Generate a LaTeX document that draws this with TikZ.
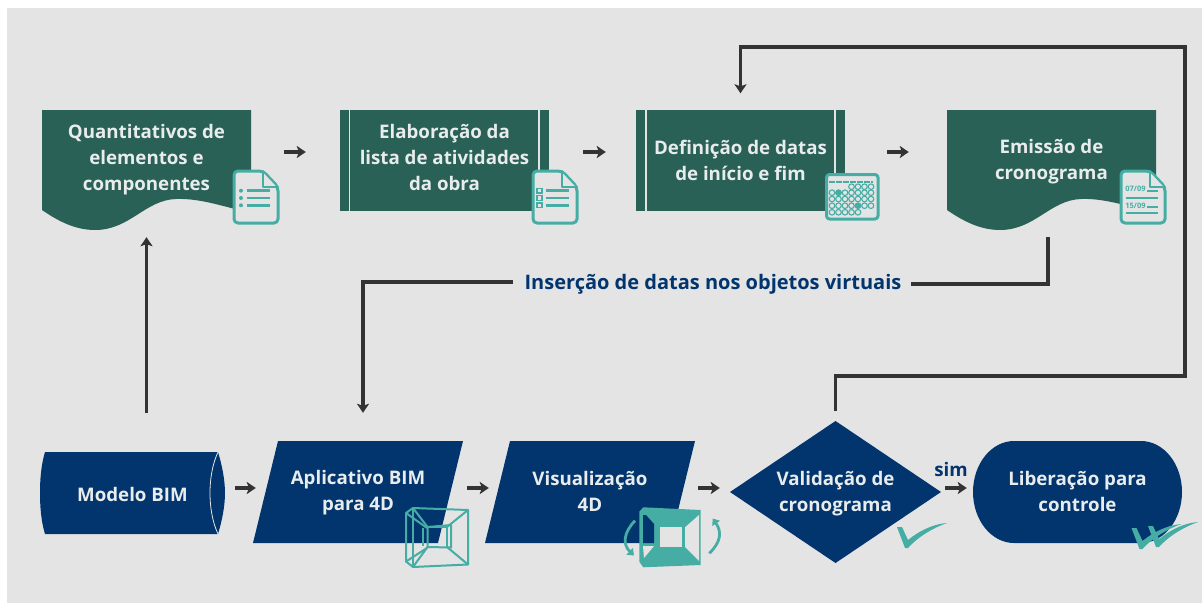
\documentclass[tikz,border=0pt]{standalone}
\usepackage{fontspec}
\setmainfont{Open Sans}
\usetikzlibrary{arrows.meta,calc}
\definecolor{bggray}{HTML}{E4E4E4}
\definecolor{dgreen}{HTML}{2A6157}
\definecolor{navy}{HTML}{02356E}
\definecolor{teal2}{HTML}{46ADA5}
\definecolor{darkline}{HTML}{333333}
\definecolor{paper}{HTML}{E9ECEC}
\tikzset{
  lbl/.style={inner sep=0pt,align=center,text=paper,font=\bfseries\fontsize{18.7}{26}\selectfont},
  conn/.style={draw=darkline,line width=3.3pt},
  arr/.style={conn,-{Stealth[length=9pt,width=12pt,inset=2pt]}},
  tealln/.style={draw=teal2,line width=3pt,line join=round},
  thin teal/.style={draw=teal2,line width=2pt,line join=round},
  rot/.style={draw=teal2,line width=2.8pt,-{Triangle[length=6pt,width=9pt]}},
}
\newcommand{\docbody}{%
  \draw[tealln,fill=bggray,rounded corners=4pt] (1,1)--(30,1)--(45,17)--(45,53)--(1,53)--cycle;
  \draw[tealln,fill=bggray,line width=1.6pt] (30,1)--(30,17)--(45,17)--cycle;
}
\newcommand{\listlines}{%
  \foreach \yy in {20.7,28,35.3}{\draw[teal2,line width=2.8pt] (13.5,\yy)--(37,\yy);}
}
\newcommand{\wirecube}[1]{%
  \begin{scope}[shift={(#1)}]
    \draw[thin teal] (7,0)--(62,2)--(62,56.5)--(7,59)--(0,53.5)--(0,5)--cycle;
    \draw[thin teal] (7,0)--(7,59);
    \draw[thin teal] (0,5)--(21,20) (0,53.5)--(21,40);
    \draw[thin teal] (7,0)--(21.5,19) (62,2)--(41,19) (62,56.5)--(41,39) (7,59)--(21.5,39);
    \draw[thin teal] (21.5,19)--(45,17)--(45,39.5)--(21.5,39)--cycle;
    \draw[thin teal] (16.7,20)--(16.7,38) (41,19)--(41,39);
    \draw[thin teal] (21.5,19)--(41,19);
  \end{scope}
}
\newcommand{\checkmk}[1]{%
  \fill[teal2,shift={(#1)}] (0,4)--(5,4)--(11,17) .. controls (22,8) and (36,1) .. (50,0)
     .. controls (36,5) and (22,13) .. (11,25) -- (8,25) -- cycle;
}
\begin{document}
\begin{tikzpicture}[x=1pt,y=-1pt]
\useasboundingbox (0,0) rectangle (1202,605);
\fill[white] (0,0) rectangle (1202,605);
\fill[bggray] (7,8) rectangle (1202,603);

% shapes
\fill[dgreen] (42,110)--(251,110)--(251,213) .. controls (225,207) and (200,198) .. (176,199)
   .. controls (145,200) and (130,230) .. (95,230) .. controls (75,230) and (58,221) .. (42,210) -- cycle;
\fill[dgreen] (340,110) rectangle (549,211);
\draw[bggray,line width=1.5pt] (349.5,110)--(349.5,211) (539,110)--(539,211);
\fill[dgreen] (636,110) rectangle (845,211);
\draw[bggray,line width=1.5pt] (646,110)--(646,211) (835,110)--(835,211);
\fill[dgreen] (947,110)--(1156,110)--(1156,213) .. controls (1130,207) and (1105,198) .. (1081,199)
   .. controls (1050,200) and (1035,230) .. (1000,230) .. controls (980,230) and (963,221) .. (947,210) -- cycle;

\fill[navy] (45,452)--(218,452) .. controls (222,465) and (225,480) .. (225,493)
   .. controls (225,506) and (222,521) .. (218,534) -- (45,534)
   .. controls (41,521) and (40,506) .. (40,493) .. controls (40,480) and (41,465) .. (45,452) -- cycle;
\draw[bggray,line width=0.8pt] (218,452) .. controls (212,465) and (210,480) .. (210,493)
   .. controls (210,506) and (212,521) .. (218,534);
\fill[navy] (278,441)--(463,441)--(438,543)--(253,543)--cycle;
\fill[navy] (510,441)--(695,441)--(670,543)--(485,543)--cycle;
\fill[navy] (835.5,421)--(941,492)--(835.5,563)--(730,492)--cycle;
\fill[navy] (1014,441)--(1141,441) .. controls (1163.6,441) and (1182,463.8) .. (1182,492)
   .. controls (1182,520.2) and (1163.6,543) .. (1141,543) -- (1014,543)
   .. controls (991.4,543) and (973,520.2) .. (973,492) .. controls (973,463.8) and (991.4,441) .. (1014,441) -- cycle;

% labels (sized to their shapes)
\node[lbl,minimum width=209pt,minimum height=94pt] (q) at (146.5,160) {Quantitativos de\\elementos e\\componentes};
\node[lbl,minimum width=209pt,minimum height=94pt] (e) at (444.5,157) {Elaboração da\\lista de atividades\\da obra};
\node[lbl,minimum width=209pt,minimum height=101pt] (d) at (740.5,160) {Definição de datas\\de início e fim};
\node[lbl,minimum width=209pt,minimum height=101pt] (c) at (1051.5,162) {Emissão de\\cronograma};
\node[lbl,minimum width=185pt,minimum height=82pt] (m) at (132.5,494) {Modelo BIM};
\node[lbl,minimum width=210pt,minimum height=98pt] (a) at (358,493) {Aplicativo BIM\\para 4D};
\node[lbl,minimum width=210pt,minimum height=102pt] (z) at (590,491) {Visualização\\4D};
\node[lbl,minimum width=211pt,minimum height=142pt] (v) at (835.5,494) {Validação de\\cronograma};
\node[lbl,minimum width=209pt,minimum height=102pt] (l) at (1077.5,491) {Liberação para\\controle};
\node[lbl,text=navy,font=\bfseries\fontsize{20}{26}\selectfont] (t) at (713,284) {Inserção de datas nos objetos virtuais};
\node[lbl,text=navy] (s) at (951,469) {sim};

% connectors
\coordinate (c1) at (1185,376);
\coordinate (c2) at (1185,47);
\coordinate (c3) at (1048,237);
\draw[arr,shorten <=33pt,shorten >=34pt] ([yshift=8pt]q.east)--([yshift=5pt]e.west);
\draw[arr,shorten <=34pt,shorten >=30pt] ([yshift=5pt]e.east)--([yshift=8pt]d.west);
\draw[arr,shorten <=42pt,shorten >=38pt] ([yshift=8pt]d.east)--([yshift=10pt]c.west);
\draw[arr,shorten <=40pt,shorten >=30pt] (q.south |- m.north)--(q.south);
\draw[arr,shorten <=12pt,shorten >=16pt,line join=miter] (v.north) |- (c1) -- (c2) -| (d.north);
\draw[conn,line join=miter] (c3) |- ([xshift=9pt]t.east);
\draw[arr,shorten >=31pt,line join=miter] ([xshift=-11pt,yshift=2pt]t.west) -| ([xshift=5pt]a.north);
\draw[arr,shorten <=10pt,shorten >=-3pt] ([yshift=6pt]m.east)--([yshift=5pt]a.west);
\draw[arr,shorten <=4pt,shorten >=-4pt] ([yshift=5pt]a.east)--([yshift=3pt]z.west);
\draw[arr,shorten <=3pt,shorten >=10pt] ([yshift=3pt]z.east)--([yshift=6pt]v.west);
\draw[arr,shorten <=4pt,shorten >=6pt] ([yshift=6pt]v.east)--([yshift=3pt]l.west);

% icons
\begin{scope}[shift={(233,170)}]
  \docbody\listlines
  \foreach \yy in {20.7,28,35.3}{\fill[teal2] (8,\yy) circle (2pt);}
\end{scope}
\begin{scope}[shift={(532,170)}]
  \docbody\listlines
  \foreach \yy in {20.7,28,35.3}{\draw[teal2,line width=1.4pt] (5,\yy-2.3) rectangle (10,\yy+2.3);}
\end{scope}
\begin{scope}[shift={(1120,170)}]
  \docbody
  \node[inner sep=0pt,text=teal2,font=\bfseries\fontsize{7.5}{8}\selectfont] (d1) at (15.5,19) {07/09};
  \node[inner sep=0pt,text=teal2,font=\bfseries\fontsize{7.5}{8}\selectfont] (d2) at (15.5,36) {15/09};
  \draw[teal2,line width=2.6pt] (27,21)--(38,21) (5.5,28)--(38,28) (27,37)--(38,37) (5.5,43)--(38,43);
\end{scope}
\begin{scope}[shift={(825,173)}]
  \draw[tealln,fill=bggray,rounded corners=3pt] (1.5,1.5) rectangle (53,46);
  \draw[teal2,line width=1.2pt,dash pattern=on 6pt off 1pt] (4,9)--(48,9);
\end{scope}
\foreach \cx in {851.5,858,864.5,871}{\draw[teal2,line width=1.1pt] (\cx,186.7) circle (2.8pt);}
\foreach \ry in {192.7,199,205.7}{\foreach \cx in {832,838.5,845,851.5,858,864.5,871}{\draw[teal2,line width=1.1pt] (\cx,\ry) circle (2.8pt);}}
\foreach \cx in {832,838.5,845,851.5,858}{\draw[teal2,line width=1.1pt] (\cx,212.3) circle (2.8pt);}
\fill[teal2] (838.5,192.7) circle (3pt) (858,205.7) circle (3pt);

\wirecube{406,508}
% rotating cube
\fill[teal2] (639.3,511.7)--(643.3,507.3)--(700.7,510)--(700.7,565)--(643.3,567.3)--(639.3,561.7)--cycle;
\fill[bggray] (660,527.3) rectangle (681.7,547.3);
\fill[bggray] (685,527.3)--(699,515)--(699,561)--(685,547)--cycle;
\fill[navy] (643,515)--(646,515)--(654,524)--(654,543)--(643,543)--cycle;
\fill[bggray] (643,546)--(654,546)--(644,558)--cycle;
\draw[rot] (635,520.7) .. controls (624,532) and (622,544) .. (634,555.5);
\draw[rot] (709.3,553.3) .. controls (721,542) and (722,532) .. (712.7,518.5);

\checkmk{897,523}
\checkmk{1131.5,524}
\checkmk{1148,522}
\end{tikzpicture}
\end{document}
